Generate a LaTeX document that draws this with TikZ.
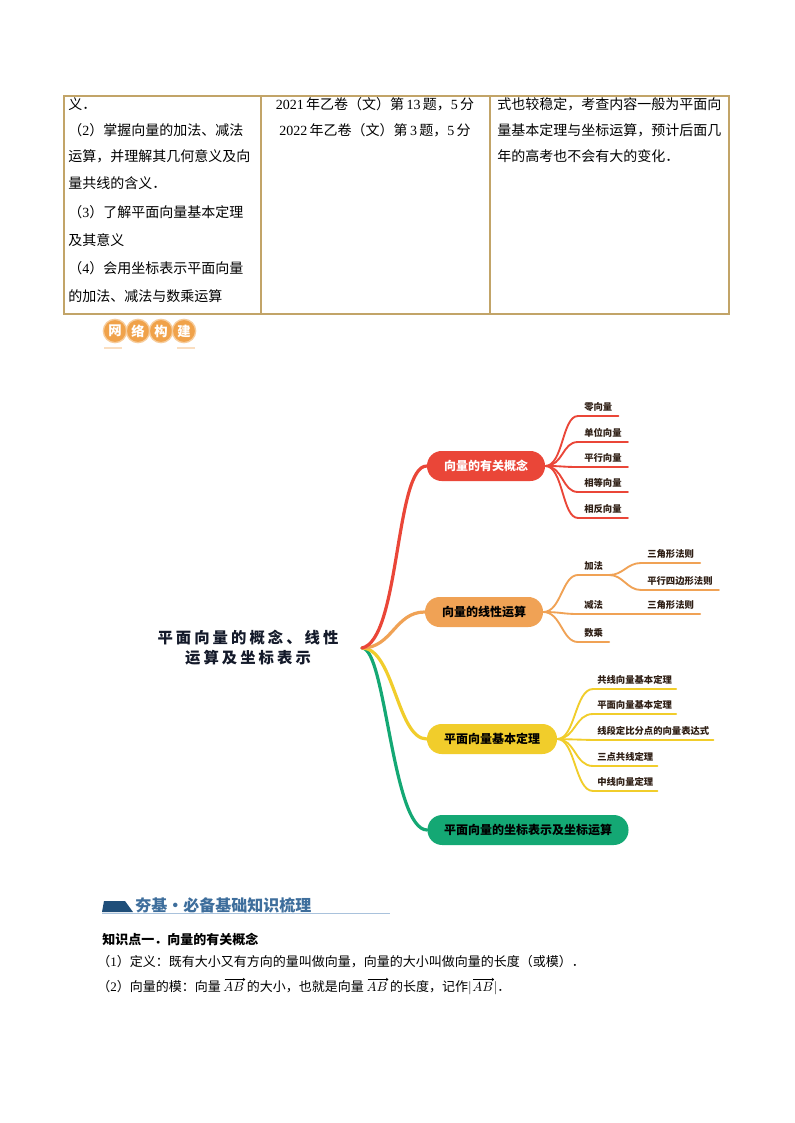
\documentclass[tikz,border=0pt]{standalone}
\usepackage{fontspec}
\setmainfont{Liberation Serif}
\newfontfamily\cjk{Noto Sans CJK SC}
\newfontfamily\cjkwide[LetterSpace=20]{Noto Sans CJK SC}
\usepackage{xcolor}
\usetikzlibrary{arrows.meta}
\definecolor{rulegold}{HTML}{C2A468}
\definecolor{conceptred}{HTML}{EA4638}
\definecolor{linearorange}{HTML}{F0A255}
\definecolor{theoremyellow}{HTML}{F1CD2B}
\definecolor{coordgreen}{HTML}{14A874}
\definecolor{leafink}{HTML}{2E1E14}
\definecolor{titleink}{HTML}{141A2A}
\definecolor{badgeorange}{HTML}{F0A24A}
\definecolor{headblue}{HTML}{1F4E79}
\definecolor{headtext}{HTML}{3E6E9C}
\definecolor{headrule}{HTML}{A9C2DC}
\newcommand{\rmd}[1]{{\rmfamily #1}}% latin digits in serif
\tikzset{
  cell/.style={anchor=base west, inner sep=0pt, font=\cjk\fontsize{10.5}{12}\selectfont},
  body/.style={anchor=base west, inner sep=0pt, font=\cjk\fontsize{9.75}{12}\selectfont},
  badge/.style={circle, fill=badgeorange, draw=badgeorange!55, line width=1pt,
    minimum size=17.5pt, inner sep=0pt, text=white, font=\cjk\bfseries\fontsize{10}{10}\selectfont},
  topic/.style={rounded corners=11pt, minimum height=22.5pt, inner xsep=6pt,
    font=\cjk\bfseries\fontsize{9}{10}\selectfont, text=black},
  leaf/.style={anchor=south west, inner xsep=4.5pt, inner ysep=3.5pt,
    font=\cjk\bfseries\fontsize{7}{8}\selectfont, text=leafink},
  branch/.style={line width=2.4pt, line cap=round},
  twig/.style={line width=1.4pt, line cap=round},
  vecarrow/.style={-{To[length=1.8pt,width=2.6pt]}, line width=0.4pt}
}

\begin{document}
\begin{tikzpicture}[x=0.75pt,y=-0.75pt]
  \useasboundingbox (0,0) rectangle (794,1123);
  \fill[white] (0,0) rectangle (794,1123);

  % Table rest
  \draw[rulegold, line width=0.8pt] (64,96) rectangle (729,314)
    (261,96) -- (261,314) (490,96) -- (490,314);
  \node[cell] (aim1) at (68,110) {义．};
  \node[cell] (aim2) at (68,136) {（\rmd{2}）掌握向量的加法、减法};
  \node[cell] (aim3) at (68,162) {运算，并理解其几何意义及向};
  \node[cell] (aim4) at (68,189) {量共线的含义．};
  \node[cell] (aim5) at (68,218) {（\rmd{3}）了解平面向量基本定理};
  \node[cell] (aim6) at (68,245) {及其意义};
  \node[cell] (aim7) at (68,273) {（\rmd{4}）会用坐标表示平面向量};
  \node[cell] (aim8) at (68,301) {的加法、减法与数乘运算};
  \node[cell, anchor=base] (exam1) at (375,110) {\rmd{2021\,}年乙卷（文）第\rmd{\,13\,}题，\rmd{5\,}分};
  \node[cell, anchor=base] (exam2) at (375,136) {\rmd{2022\,}年乙卷（文）第\rmd{\,3\,}题，\rmd{5\,}分};
  \node[cell] (trend1) at (497,110) {式也较稳定，考查内容一般为平面向};
  \node[cell] (trend2) at (497,136) {量基本定理与坐标运算，预计后面几};
  \node[cell] (trend3) at (497,162) {年的高考也不会有大的变化．};

  % Badge
  \foreach \ch [count=\i] in {网,络,构,建}
    \node[badge] (badge\i) at ({92+23*\i},331) {\ch};
  \draw[badgeorange!35, line width=1.5pt] (104,348) -- (122,348) (177,348) -- (195,348);

  % Mind map
  \node[font=\cjkwide\bfseries\fontsize{11.5}{15}\selectfont, align=center, text=titleink]
    (title) at (248,648) {平面向量的概念、线性\\运算及坐标表示};
  \coordinate (hub) at (362,648);

  \node[topic, fill=conceptred, text=white, minimum width=88.5pt] (concept) at (486,466) {向量的有关概念};
  \node[topic, fill=linearorange, minimum width=88.5pt] (linear) at (484,612) {向量的线性运算};
  \node[topic, fill=theoremyellow, minimum width=97.5pt] (theorem) at (492,739) {平面向量基本定理};
  \node[topic, fill=coordgreen, minimum width=150.75pt] (coord) at (528,830) {平面向量的坐标表示及坐标运算};

  \draw[branch, coordgreen] (hub) .. controls (386,648) and (392,830) .. (coord.west);
  \draw[branch, theoremyellow] (hub) .. controls (394,648) and (397,739) .. (theorem.west);
  \draw[branch, linearorange] (hub) .. controls (392,648) and (395,612) .. (linear.west);
  \draw[branch, conceptred] (hub) .. controls (400,640) and (395,466) .. (concept.west);

  % red leaves
  \node[leaf] (zero) at (578,416) {零向量};
  \node[leaf] (unit) at (578,442) {单位向量};
  \node[leaf] (parallel) at (578,467) {平行向量};
  \node[leaf] (equal) at (578,492) {相等向量};
  \node[leaf] (opposite) at (578,518) {相反向量};
  \foreach \n in {zero,unit,parallel,equal,opposite}
    \draw[twig, conceptred] (concept.east) .. controls +(18,0) and +(-16,0) .. (\n.south west) -- (\n.south east);

  % orange leaves
  \node[leaf] (addition) at (578,575) {加法};
  \node[leaf] (triangleA) at (641,563) {三角形法则};
  \node[leaf] (parallelogram) at (641,590) {平行四边形法则};
  \node[leaf] (subtraction) at (578,614) {减法};
  \node[leaf] (triangleB) at (641,614) {三角形法则};
  \node[leaf] (scalar) at (578,642) {数乘};
  \foreach \n in {addition,subtraction,scalar}
    \draw[twig, linearorange] (linear.east) .. controls +(18,0) and +(-16,0) .. (\n.south west) -- (\n.south east);
  \foreach \n in {triangleA,parallelogram}
    \draw[twig, linearorange] (addition.south east) .. controls +(14,0) and +(-14,0) .. (\n.south west) -- (\n.south east);
  \draw[twig, linearorange] (subtraction.south east) -- (triangleB.south east);

  % yellow leaves
  \node[leaf, inner xsep=3pt] (collinear) at (593,689) {共线向量基本定理};
  \node[leaf, inner xsep=3pt] (basis) at (593,714) {平面向量基本定理};
  \node[leaf, inner xsep=3pt] (section) at (593,740) {线段定比分点的向量表达式};
  \node[leaf, inner xsep=3pt] (threepoint) at (593,766) {三点共线定理};
  \node[leaf, inner xsep=3pt] (median) at (593,791) {中线向量定理};
  \foreach \n in {collinear,basis,section,threepoint,median}
    \draw[twig, theoremyellow] (theorem.east) .. controls +(18,0) and +(-18,0) .. (\n.south west) -- (\n.south east);

  % Section heading
  \fill[headblue] (102,912) -- (104,901) -- (125,901) -- (133,912) -- cycle;
  \draw[headrule, line width=0.8pt] (102,913.5) -- (390,913.5);
  \node[anchor=west, inner sep=0pt, text=headtext, font=\cjk\bfseries\fontsize{12}{14}\selectfont]
    (heading) at (135,905) {夯基·必备基础知识梳理};

  \node[body, font=\cjk\bfseries\fontsize{9.75}{12}\selectfont] (point1) at (102,944) {知识点一．向量的有关概念};
  \node[body] (define) at (97,966) {（\rmd{1}）定义：既有大小又有方向的量叫做向量，向量的大小叫做向量的长度（或模）．};
  % line with three vectors AB
  \node[body] (modA) at (97,991) {（\rmd{2}）向量的模：向量\,};
  \node[body] (abA) at (modA.base east) {$AB$};
  \node[body] (modB) at (abA.base east) {\,的大小，也就是向量\,};
  \node[body] (abB) at (modB.base east) {$AB$};
  \node[body] (modC) at (abB.base east) {\,的长度，记作$|$};
  \node[body] (abC) at (modC.base east) {$AB$};
  \node[body] (modD) at (abC.base east) {$|$．};
  \foreach \v in {abA,abB,abC}
    \draw[vecarrow] ([xshift=1pt,yshift=1.6pt]\v.north west) -- ([xshift=0.5pt,yshift=1.6pt]\v.north east);
\end{tikzpicture}
\end{document}
